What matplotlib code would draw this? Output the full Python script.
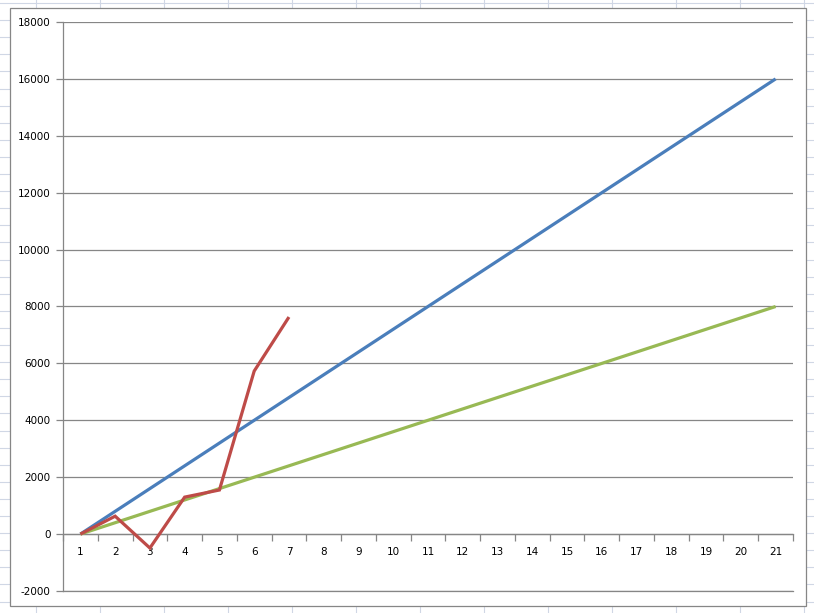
import matplotlib.pyplot as plt
from matplotlib.lines import Line2D
from matplotlib.patches import Rectangle
import numpy as np

# data
categories = list(range(1, 22))
blue_vals = [0, 800, 1600, 2400, 3200, 4000, 4800, 5600, 6400, 7200, 8000,
             8800, 9600, 10400, 11200, 12000, 12800, 13600, 14400, 15200, 16000]
green_vals = [0, 400, 800, 1200, 1600, 2000, 2400, 2800, 3200, 3600, 4000,
              4400, 4800, 5200, 5600, 6000, 6400, 6800, 7200, 7600, 8000]
red_vals = [0, 630, -490, 1300, 1550, 5730, 7630]
y_ticks = [-2000, 0, 2000, 4000, 6000, 8000, 10000, 12000, 14000, 16000, 18000]

W, H = 814, 613
fig = plt.figure(figsize=(W / 100, H / 100), dpi=100)
fig.patch.set_facecolor('white')

def fx(px):
    return px / W

def fy(py):
    return 1 - py / H

# spreadsheet cells behind the chart
cell_col = '#d0d7e5'
for x in np.arange(36, W, 64):
    fig.add_artist(Line2D([fx(x), fx(x)], [0, 1], color=cell_col, lw=0.8, zorder=0))
for y in np.arange(3, H, 17.1):
    fig.add_artist(Line2D([0, 1], [fy(y), fy(y)], color=cell_col, lw=0.8, zorder=0))

# chart area frame
fig.add_artist(Rectangle((fx(10), fy(606)), fx(806) - fx(10), fy(8) - fy(606),
                         transform=fig.transFigure, facecolor='white',
                         edgecolor='#868686', lw=0.9, zorder=1))

ax = fig.add_axes([fx(63), fy(591), fx(793) - fx(63), fy(22) - fy(591)], zorder=2)
ax.patch.set_alpha(0)

ax.plot(categories, blue_vals, color='#4a7ebb', lw=2.3, solid_capstyle='butt', zorder=3)
ax.plot(categories, green_vals, color='#98b954', lw=2.3, solid_capstyle='butt', zorder=3)
ax.plot(categories[:len(red_vals)], red_vals, color='#be4b48', lw=2.3,
        solid_joinstyle='miter', solid_capstyle='butt', zorder=4)

ax.set_xlim(0.5, 21.5)
ax.set_ylim(-2000, 18000)
ax.set_yticks(y_ticks)
ax.set_yticklabels([str(v) for v in y_ticks])
ax.yaxis.grid(True, color='#868686', lw=0.9)
# bottom gridline sits on the axes edge, draw it unclipped
ax.axhline(y_ticks[0], color='#868686', lw=0.9, clip_on=False, zorder=1)
ax.set_axisbelow(True)

ax.set_xticks(categories)
ax.set_xticklabels([str(c) for c in categories])
ax.set_xticks(np.arange(0.5, 22, 1), minor=True)
ax.tick_params(axis='x', which='major', length=0, pad=9, labelsize=7.5)
ax.tick_params(axis='x', which='minor', length=5, direction='out', color='#868686', width=0.9)
ax.tick_params(axis='y', length=5, direction='out', color='#868686', width=0.9,
               labelsize=7.5, pad=4)

for s in ['top', 'right']:
    ax.spines[s].set_visible(False)
ax.spines['bottom'].set_position(('data', 0))
ax.spines['bottom'].set_color('#868686')
ax.spines['left'].set_color('#868686')
ax.spines['left'].set_linewidth(0.9)
ax.spines['bottom'].set_linewidth(0.9)

plt.savefig('out.png', dpi=100)
